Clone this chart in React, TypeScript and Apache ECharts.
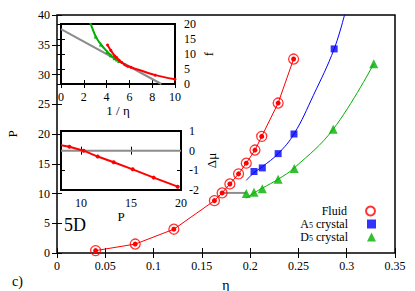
import React, { useEffect, useRef } from "react";
import * as echarts from "echarts";

// ---------- main panel data (η, P) ----------
const fluidEta = [0.04, 0.081, 0.121, 0.163, 0.171, 0.179, 0.188, 0.196, 0.205, 0.212, 0.229, 0.245];
const fluidP = [0.4, 1.5, 4.0, 8.8, 10.1, 11.6, 13.3, 15.1, 17.3, 19.6, 25.2, 32.6];

const a5Eta = [0.204, 0.2126, 0.229, 0.2454, 0.287];
const a5P = [13.7, 14.3, 16.7, 20.0, 34.3];
const a5FitEta = [0.196, 0.204, 0.2126, 0.229, 0.2454, 0.2655, 0.287, 0.2985];
const a5FitP = [12.2, 13.5, 14.5, 16.7, 20.0, 26.5, 34.3, 40.5];

const d5Eta = [0.196, 0.204, 0.2126, 0.229, 0.2457, 0.286, 0.328];
const d5P = [10.0, 10.2, 10.8, 12.4, 14.2, 20.8, 31.8];
const d5FitEta = [0.1955, 0.204, 0.2126, 0.229, 0.2457, 0.286, 0.328];
const d5FitP = [9.2, 10.1, 10.9, 12.4, 14.3, 20.8, 31.8];

const tieEta = [0.171, 0.196];
const tieP = [10.1, 10.1];

// ---------- inset 1 (1/η, f) ----------
const inv1FluidX = [4.08, 4.37, 4.72, 4.88, 5.1, 5.32, 5.6, 5.85, 6.13, 8.26, 10];
const inv1FluidF = [13.0, 11.2, 9.3, 8.8, 7.9, 7.2, 6.4, 5.9, 5.6, 2.95, 1.55];
const inv1CrystX = [2.55, 3.05, 3.5, 4.07, 4.37, 4.7, 4.9, 5.1];
const inv1CrystF = [20.6, 15.8, 13.2, 10.7, 9.6, 8.6, 8.2, 7.7];
const inv1RefX = [0, 8.8];
const inv1RefF = [18.3, 0];

// ---------- inset 2 (P, Δμ) ----------
const ins2P = [8, 8.84, 10.27, 11.67, 13.27, 15.17, 17.27, 19.67];
const ins2Mu = [0.27, 0.2, 0.0, -0.3, -0.59, -0.95, -1.37, -1.83];
const ins2RefP = [8, 20];
const ins2RefMu = [0, 0];

// tick labels
const mainXTicks = [0, 0.05, 0.1, 0.15, 0.2, 0.25, 0.3, 0.35];
const ins2XTicks = [10, 15, 20];
const legendNames = ["Fluid", "A5 crystal", "D5 crystal"];

const FONT = "Liberation Serif";
const RED = "#ff0000";
const BLUE = "#0000ff";
const GREEN = "#00b000";
const GRAY = "#8c8c8c";

const zip = (a: number[], b: number[]) => a.map((v, i) => [v, b[i]]);

const tick = (len: number) => ({
  show: true,
  inside: true,
  length: len,
  lineStyle: { color: "#000", width: 1 },
});
const label = (margin: number, show = true) => ({
  show,
  color: "#000",
  fontFamily: FONT,
  fontSize: 12,
  margin,
});
const nameStyle = { color: "#000", fontFamily: FONT, fontSize: 13 };

const legendFormatter = (n: string) => {
  const m = n.match(/^([A-Z])(\d) (.*)$/);
  if (m) return `{t|${m[1]}}{s|${m[2]}}{t| ${m[3]}}`;
  return `{t|${n}}`;
};

const legendTops = [205, 218, 231];

function makeLegend(name: string, top: number) {
  return {
    data: [name],
    orient: "vertical",
    right: 39,
    top,
    padding: 0,
    align: "right",
    itemWidth: 9,
    itemHeight: 9,
    selectedMode: false,
    formatter: legendFormatter,
    textStyle: {
      color: "#000",
      fontFamily: FONT,
      fontSize: 12,
      lineHeight: 11,
      padding: [0, 14, 0, 0],
      rich: {
        t: { fontFamily: FONT, fontSize: 12, color: "#000", lineHeight: 11 },
        s: { fontFamily: FONT, fontSize: 8, color: "#000", lineHeight: 11, verticalAlign: "bottom" },
      },
    },
  };
}

const gridBase = { show: true, borderColor: "#000", outerBoundsMode: "none", containLabel: false };

function buildOption(): any {
  return {
    animation: false,
    backgroundColor: "#fff",
    textStyle: { fontFamily: FONT },
    grid: [
      { ...gridBase, left: 57, top: 15, width: 338, height: 238, borderWidth: 1.5, backgroundColor: "transparent" },
      { ...gridBase, left: 61, top: 24, width: 114, height: 60, borderWidth: 2, backgroundColor: "#fff" },
      { ...gridBase, left: 61, top: 131, width: 120, height: 59, borderWidth: 2, backgroundColor: "#fff" },
    ],
    xAxis: [
      {
        gridIndex: 0, type: "value", min: mainXTicks[0], max: mainXTicks[mainXTicks.length - 1], interval: 0.05,
        position: "bottom", axisLine: { show: false }, axisTick: tick(5), axisLabel: label(7), splitLine: { show: false },
        name: "η", nameLocation: "middle", nameGap: 25, nameTextStyle: { ...nameStyle, fontSize: 14 },
      },
      {
        gridIndex: 0, type: "value", min: 0, max: 0.35, interval: 0.05, position: "top",
        axisLine: { show: false }, axisTick: tick(5), axisLabel: { show: false }, splitLine: { show: false },
      },
      {
        gridIndex: 1, type: "value", min: 0, max: 10, interval: 2, position: "bottom",
        axisLine: { show: false }, axisTick: tick(4), axisLabel: label(7), splitLine: { show: false },
        name: "1 / η", nameLocation: "middle", nameGap: 18, nameTextStyle: nameStyle,
      },
      {
        gridIndex: 1, type: "value", min: 0, max: 10, interval: 2, position: "top",
        axisLine: { show: false }, axisTick: tick(4), axisLabel: { show: false }, splitLine: { show: false },
      },
      {
        gridIndex: 2, type: "value", min: 8, max: 20, position: "bottom",
        axisLine: { show: false },
        axisTick: { ...tick(4), customValues: ins2XTicks },
        axisLabel: { ...label(7), customValues: ins2XTicks },
        splitLine: { show: false },
        name: "P", nameLocation: "middle", nameGap: 20, nameTextStyle: nameStyle,
      },
      {
        gridIndex: 2, type: "value", min: 8, max: 20, position: "top",
        axisLine: { show: false },
        axisTick: { ...tick(4), customValues: ins2XTicks },
        axisLabel: { show: false },
        splitLine: { show: false },
      },
    ],
    yAxis: [
      {
        gridIndex: 0, type: "value", min: 0, max: 40, interval: 5, position: "left",
        axisLine: { show: false }, axisTick: tick(5), axisLabel: label(7), splitLine: { show: false },
        name: "P", nameLocation: "middle", nameRotate: 90, nameGap: 38, nameTextStyle: nameStyle,
      },
      {
        gridIndex: 0, type: "value", min: 0, max: 40, interval: 5, position: "right",
        axisLine: { show: false }, axisTick: tick(5), axisLabel: { show: false }, splitLine: { show: false },
      },
      {
        gridIndex: 1, type: "value", min: 0, max: 20, interval: 5, position: "right",
        axisLine: { show: false }, axisTick: tick(4), axisLabel: label(9), splitLine: { show: false },
        name: "f", nameLocation: "middle", nameRotate: 90, nameGap: 27, nameTextStyle: nameStyle,
      },
      {
        gridIndex: 1, type: "value", min: 0, max: 20, interval: 5, position: "left",
        axisLine: { show: false }, axisTick: tick(4), axisLabel: { show: false }, splitLine: { show: false },
      },
      {
        gridIndex: 2, type: "value", min: -2, max: 1, interval: 1, position: "right",
        axisLine: { show: false }, axisTick: tick(4), axisLabel: label(8), splitLine: { show: false },
        name: "Δμ", nameLocation: "middle", nameRotate: 90, nameGap: 24, nameTextStyle: nameStyle,
      },
      {
        gridIndex: 2, type: "value", min: -2, max: 1, interval: 1, position: "left",
        axisLine: { show: false }, axisTick: tick(4), axisLabel: { show: false }, splitLine: { show: false },
      },
    ],
    legend: legendNames.map((n, i) => makeLegend(n, legendTops[i])),
    graphic: [
      { type: "text", left: 64, top: 216, style: { text: "5D", fontFamily: FONT, fontSize: 18, fill: "#000" } },
      { type: "text", left: 12, top: 274, style: { text: "c)", fontFamily: FONT, fontSize: 14, fill: "#000" } },
    ],
    series: [
      // main panel
      {
        name: "tie", type: "line", xAxisIndex: 0, yAxisIndex: 0, data: zip(tieEta, tieP),
        symbol: "none", lineStyle: { color: GRAY, width: 2 }, z: 2,
      },
      {
        name: "fluidLine", type: "line", xAxisIndex: 0, yAxisIndex: 0, data: zip(fluidEta, fluidP),
        symbol: "circle", symbolSize: 5, itemStyle: { color: RED }, lineStyle: { color: RED, width: 1 }, z: 3,
      },
      {
        name: legendNames[0], type: "scatter", xAxisIndex: 0, yAxisIndex: 0, data: zip(fluidEta, fluidP),
        symbol: "circle", symbolSize: 10, itemStyle: { color: "rgba(255,255,255,0)", borderColor: RED, borderWidth: 1.3 }, z: 4,
      },
      {
        name: "a5Fit", type: "line", xAxisIndex: 0, yAxisIndex: 0, data: zip(a5FitEta, a5FitP),
        smooth: 0.4, symbol: "none", lineStyle: { color: BLUE, width: 1 }, z: 3,
      },
      {
        name: legendNames[1], type: "scatter", xAxisIndex: 0, yAxisIndex: 0, data: zip(a5Eta, a5P),
        symbol: "rect", symbolSize: 7, itemStyle: { color: BLUE }, z: 4,
      },
      {
        name: "d5Fit", type: "line", xAxisIndex: 0, yAxisIndex: 0, data: zip(d5FitEta, d5FitP),
        smooth: 0.4, symbol: "none", lineStyle: { color: GREEN, width: 1 }, z: 3,
      },
      {
        name: legendNames[2], type: "scatter", xAxisIndex: 0, yAxisIndex: 0, data: zip(d5Eta, d5P),
        symbol: "triangle", symbolSize: 9, itemStyle: { color: GREEN }, z: 4,
      },
      // inset 1
      {
        name: "ins1Ref", type: "line", xAxisIndex: 2, yAxisIndex: 2, data: zip(inv1RefX, inv1RefF),
        symbol: "none", lineStyle: { color: GRAY, width: 2 }, z: 5,
      },
      {
        name: "ins1Cryst", type: "line", xAxisIndex: 2, yAxisIndex: 2, data: zip(inv1CrystX, inv1CrystF),
        smooth: 0.3, symbol: "triangle", symbolSize: 4, showSymbol: true, itemStyle: { color: GREEN },
        lineStyle: { color: GREEN, width: 2 }, z: 6,
      },
      {
        name: "ins1Fluid", type: "line", xAxisIndex: 2, yAxisIndex: 2, data: zip(inv1FluidX, inv1FluidF),
        smooth: 0.3, symbol: "circle", symbolSize: 3, itemStyle: { color: RED },
        lineStyle: { color: RED, width: 2 }, z: 7,
      },
      // inset 2
      {
        name: "ins2Ref", type: "line", xAxisIndex: 4, yAxisIndex: 4, data: zip(ins2RefP, ins2RefMu),
        symbol: "none", lineStyle: { color: GRAY, width: 2 }, z: 5,
      },
      {
        name: "ins2Fluid", type: "line", xAxisIndex: 4, yAxisIndex: 4,
        data: zip(ins2P, ins2Mu).map((d, i) => (i === 0 ? { value: d, symbol: "none" } : d)),
        symbol: "circle", symbolSize: 4, itemStyle: { color: RED },
        lineStyle: { color: RED, width: 2 }, z: 6,
      },
    ],
  };
}

export default function App() {
  const ref = useRef<HTMLDivElement>(null);
  useEffect(() => {
    const chart = echarts.init(ref.current!, null, { renderer: "svg" });
    chart.setOption(buildOption());
    return () => chart.dispose();
  }, []);
  return (
    <div
      ref={ref}
      style={{ position: "fixed", left: 0, top: 0, width: 415, height: 291, background: "#fff" }}
    />
  );
}
